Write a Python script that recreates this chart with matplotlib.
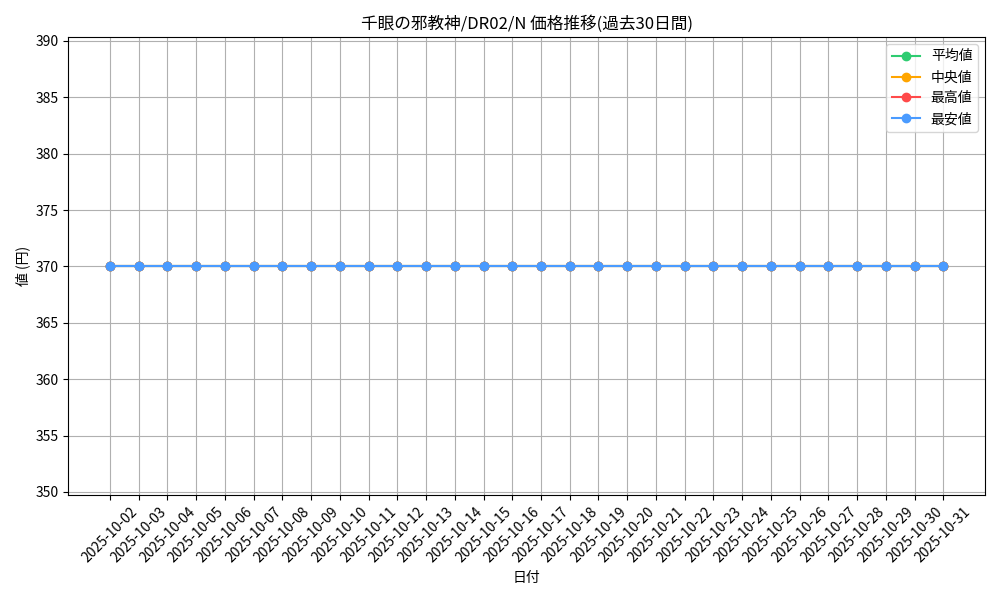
import matplotlib
matplotlib.use('Agg')
import matplotlib.pyplot as plt

plt.rcParams['font.family'] = ['Noto Sans CJK JP', 'DejaVu Sans']

# Data
dates = [f'2025-10-{d:02d}' for d in range(2, 32)]
avg_prices = [370] * 30
median_prices = [370] * 30
max_prices = [370] * 30
min_prices = [370] * 30

fig, ax = plt.subplots(figsize=(10, 6), dpi=100)
ax.plot(dates, avg_prices, marker='o', color='#2ecc71', label='平均値')
ax.plot(dates, median_prices, marker='o', color='#ffa500', label='中央値')
ax.plot(dates, max_prices, marker='o', color='#ff4a4a', label='最高値')
ax.plot(dates, min_prices, marker='o', color='#4a9bff', label='最安値')

ax.set_ylim(349.7, 390.35)
ax.set_title('千眼の邪教神/DR02/N 価格推移(過去30日間)')
ax.set_xlabel('日付')
ax.set_ylabel('値 (円)')
ax.grid(True)
ax.legend(loc='upper right')
plt.xticks(rotation=45)

plt.tight_layout()
plt.savefig('out.png', dpi=100)
